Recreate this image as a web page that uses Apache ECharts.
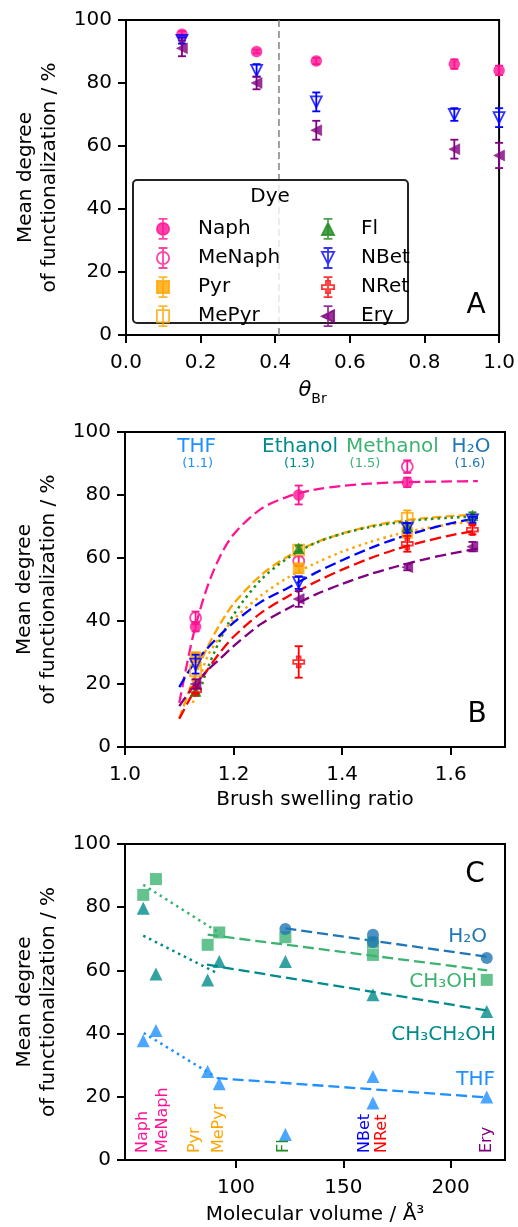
<!DOCTYPE html>
<html><head><meta charset="utf-8">
<script src="https://cdn.jsdelivr.net/npm/echarts@6/dist/echarts.min.js"></script>
<style>html,body{margin:0;padding:0;background:#fff}#c{width:518px;height:1227px}</style>
</head><body><div id="c"></div>
<script>
// ---------------- DATA ----------------
const dyeNames = ['Naph','MeNaph','Pyr','MePyr','Fl','NBet','NRet','Ery'];
const pctTicks = [0, 20, 40, 60, 80, 100];

// Panel A
const thetaBr   = [0.15, 0.35, 0.51, 0.88, 1.0];
const thetaTicks = [0, 0.2, 0.4, 0.6, 0.8, 1.0];
const aNaph     = [95.5, 90, 87, 86, 84];
const aNaphErr  = [1, 0.6, 1, 1.5, 1.5];
const aNBet     = [93.5, 84, 74, 70, 69];
const aNBetErr  = [1, 2, 3, 2, 3];
const aEry      = [91, 80, 65, 59, 57];
const aEryErr   = [2.5, 2, 3, 3, 4];
const thetaDivider = 0.41;

// Panel B
const swelling = [1.13, 1.32, 1.52, 1.64];
const swellTicks = [1.0, 1.2, 1.4, 1.6];
const bNaph     = [38.2, 80, 84, null];
const bNaphErr  = [1.5, 3, 1.5, null];
const bMeNaph   = [41, 59, 89, null];
const bMeNaphErr= [2, 1.5, 2, null];
const bPyr      = [28.5, 56.7, 68, null];
const bPyrErr   = [1.5, 1.5, 1.5, null];
const bMePyr    = [24.2, 62.5, 72.6, null];
const bMePyrErr = [3, 1, 2.5, null];
const bFl       = [17.8, 63, 70, 73.5];
const bFlErr    = [1, 1, 1, 1];
const bNBet     = [26.3, 52.2, 69.5, 72.1];
const bNBetErr  = [3, 2, 1.5, 1];
const bNRet     = [18, 27, 64.5, 69];
const bNRetErr  = [1, 5, 2.5, 1.5];
const bEry      = [20, 47, 57.1, 63.6];
const bEryErr   = [1.5, 2.5, 1, 1.5];

// Panel B fitted curves
const fitX      = [1.10, 1.125, 1.15, 1.175, 1.20, 1.25, 1.30, 1.35, 1.40, 1.45, 1.50, 1.55, 1.60, 1.65];
const fitNaphY  = [14, 35, 50, 60.5, 67.5, 75.5, 79.5, 81.7, 82.9, 83.6, 84.0, 84.2, 84.3, 84.4];
const fitMePyrY = [9, 21, 31, 39, 45.5, 54.5, 60.5, 64.8, 67.8, 70, 71.6, 72.6, 73.3, 73.8];
const fitPyrY   = [null, 14, 28, 35, 40.5, 48, 53.8, 58.3, 62, 65, 67.5, 69.3, 70.7, 71.8];
const fitNBetY  = [19, 26, 31, 35.5, 39.5, 46, 50.5, 55.2, 59.3, 63, 66.2, 68.8, 71, 72.7];
const fitNRetY  = [9, 17, 24, 30, 35, 42.5, 47.8, 52.3, 56.3, 59.8, 62.8, 65.2, 67.2, 68.8];
const fitEryY   = [13, 19, 24, 28, 32, 39, 44, 48.3, 51.8, 54.8, 57.3, 59.5, 61.4, 63];
const fitFlX    = [1.135, 1.15, 1.175, 1.20, 1.25, 1.30, 1.35, 1.40, 1.45, 1.50, 1.55, 1.60, 1.65];
const fitFlY    = [16, 24, 34, 42, 53, 60, 64.7, 67.7, 69.8, 71.2, 72.2, 72.8, 73.2];

// Panel C
const molVol   = [56.8, 62.7, 86.8, 92.2, 123, 163.8, 163.8, 216.8]; // per dye
const volTicks = [100, 150, 200];
const cTHF     = [37.7, 41.0, 28.0, 24.1, 8.1, 26.4, 18.0, 19.9];
const cEtOH    = [79.7, 58.9, 57.0, 62.8, 62.8, 52.3, null, 47.0];
const cMeOH    = [83.9, 88.9, 68.1, 72.0, 70.5, 68.8, 64.9, 57.0];
const cH2O     = [null, null, null, null, 73.1, 71.3, 69.0, 63.9];
const fitH2OX = [123, 217],     fitH2OY = [73.3, 64.3];
const fitMeOHDotX = [56.8, 92.9], fitMeOHDotY = [87.1, 71.6];
const fitMeOHDashX = [86.8, 217], fitMeOHDashY = [71.3, 60.0];
const fitEtOHDotX = [56.8, 91.9], fitEtOHDotY = [71.0, 58.9];
const fitEtOHDashX = [86.5, 217], fitEtOHDashY = [61.8, 47.3];
const fitTHFDotX = [57, 90],    fitTHFDotY = [40.2, 26.5];
const fitTHFDashX = [91, 217],  fitTHFDashY = [25.9, 19.8];
const dyeLabelX = [56.8, 66.1, 80.9, 92.2, 122.4, 160.1, 167.9, 216.8];
const dyeLabelY = 2.2;

// ---------------- STYLES ----------------
const FF = 'DejaVu Sans';
const dyeStyle = {
  Naph:   {color:'#ff1493', shape:'circle', hollow:false},
  MeNaph: {color:'#ff1493', shape:'circle', hollow:true},
  Pyr:    {color:'#ffa500', shape:'square', hollow:false},
  MePyr:  {color:'#ffa500', shape:'square', hollow:true},
  Fl:     {color:'#228b22', shape:'up',     hollow:false},
  NBet:   {color:'#0000ff', shape:'down',   hollow:true},
  NRet:   {color:'#ff0000', shape:'plus',   hollow:true},
  Ery:    {color:'#800080', shape:'left',   hollow:false}
};
const solvColor = {THF:'#1e90ff', EtOH:'#008b8b', MeOH:'#3cb371', H2O:'#1f77b4'};
const DASH = [11, 5], DOT = [2.5, 4];
const symbolOf = {
  circle:'circle', square:'rect', up:'triangle',
  down:'path://M0,0L2,0L1,2Z',
  left:'path://M0,1L2,0L2,2Z',
  plus:'path://M1,0L2,0L2,1L3,1L3,2L2,2L2,3L1,3L1,2L0,2L0,1L1,1Z'
};
const iconShape = {
  circle:'M1.5,10A5.5,5.5,0,1,0,12.5,10A5.5,5.5,0,1,0,1.5,10Z',
  square:'M1.5,4.5L12.5,4.5L12.5,15.5L1.5,15.5Z',
  up:'M7,4.5L12.5,15.5L1.5,15.5Z',
  down:'M1.5,4.5L12.5,4.5L7,15.5Z',
  left:'M1.5,10L12.5,4.5L12.5,15.5Z',
  plus:'M5.2,4.5L8.8,4.5L8.8,8.2L12.5,8.2L12.5,11.8L8.8,11.8L8.8,15.5L5.2,15.5L5.2,11.8L1.5,11.8L1.5,8.2L5.2,8.2Z'
};
const iconBar = 'M7,1L7,19M3,1L11,1M3,19L11,19';

function markerStyle(st){
  return st.hollow ? {color:'rgba(0,0,0,0)', borderColor:st.color, borderWidth:1.8}
                   : {color:st.color, borderColor:st.color, borderWidth:0.5};
}

// ---------------- SERIES ----------------
const series = [];
let zc = 3;
function errBars(name, gi, xs, ys, es, color){
  const data = [];
  xs.forEach((x,i)=>{ if (ys[i]!=null && es[i]!=null) data.push([x, ys[i], es[i]]); });
  series.push({
    name: name + ' err', type:'custom', xAxisIndex:gi, yAxisIndex:gi, silent:true, z: zc++,
    data, encode:{x:0, y:1},
    renderItem(params, api){
      const x = api.value(0), y = api.value(1), e = api.value(2);
      const lo = api.coord([x, y - e]), hi = api.coord([x, y + e]);
      const cw = 4, st = {stroke:color, lineWidth:1.8};
      return {type:'group', children:[
        {type:'line', shape:{x1:lo[0], y1:lo[1], x2:hi[0], y2:hi[1]}, style:st},
        {type:'line', shape:{x1:lo[0]-cw, y1:lo[1], x2:lo[0]+cw, y2:lo[1]}, style:st},
        {type:'line', shape:{x1:hi[0]-cw, y1:hi[1], x2:hi[0]+cw, y2:hi[1]}, style:st}
      ]};
    }
  });
}
function dyeScatter(name, gi, xs, ys, es, size){
  const st = dyeStyle[name];
  errBars(name, gi, xs, ys, es, st.color);
  const data = [];
  xs.forEach((x,i)=>{ if (ys[i]!=null) data.push([x, ys[i]]); });
  series.push({
    name, type:'scatter', xAxisIndex:gi, yAxisIndex:gi, silent:true, z: zc++,
    symbol: symbolOf[st.shape], symbolSize: size, itemStyle: markerStyle(st), data
  });
}
function curve(gi, xs, ys, color, dash, width, smooth){
  const data = [];
  xs.forEach((x,i)=>{ if (ys[i]!=null) data.push([x, ys[i]]); });
  series.push({
    type:'line', xAxisIndex:gi, yAxisIndex:gi, silent:true, z: 2,
    data, showSymbol:false, symbol:'none', smooth: smooth || false,
    lineStyle:{color, type:dash, width: width || 2.3}
  });
}

// Panel A
series.push({type:'line', xAxisIndex:0, yAxisIndex:0, silent:true, z:1, symbol:'none',
  data:[[thetaDivider, 0], [thetaDivider, 100]], lineStyle:{color:'#808080', type:[7,4], width:1.5}});
dyeScatter('Naph', 0, thetaBr, aNaph, aNaphErr, 11);
dyeScatter('NBet', 0, thetaBr, aNBet, aNBetErr, 11);
dyeScatter('Ery', 0, thetaBr, aEry, aEryErr, 11);

// Panel B
curve(1, fitX, fitNaphY, dyeStyle.Naph.color, DASH, 2.3, 0.3);
curve(1, fitX, fitMePyrY, dyeStyle.MePyr.color, [9, 4], 2.3, 0.3);
curve(1, fitFlX, fitFlY, dyeStyle.Fl.color, DOT, 2.5, 0.3);
curve(1, fitX, fitPyrY, dyeStyle.Pyr.color, DOT, 2.5, 0.3);
curve(1, fitX, fitNBetY, dyeStyle.NBet.color, DASH, 2.3, 0.3);
curve(1, fitX, fitNRetY, dyeStyle.NRet.color, DASH, 2.3, 0.3);
curve(1, fitX, fitEryY, dyeStyle.Ery.color, DASH, 2.3, 0.3);
dyeScatter('Naph', 1, swelling, bNaph, bNaphErr, 11);
dyeScatter('MeNaph', 1, swelling, bMeNaph, bMeNaphErr, 11);
dyeScatter('Pyr', 1, swelling, bPyr, bPyrErr, 11);
dyeScatter('MePyr', 1, swelling, bMePyr, bMePyrErr, 11);
dyeScatter('Fl', 1, swelling, bFl, bFlErr, 11);
dyeScatter('NBet', 1, swelling, bNBet, bNBetErr, 11);
dyeScatter('NRet', 1, swelling, bNRet, bNRetErr, 11);
dyeScatter('Ery', 1, swelling, bEry, bEryErr, 11);

// Panel C
function solvScatter(name, ys, sym, color, size){
  const data = [];
  molVol.forEach((x,i)=>{ if (ys[i]!=null) data.push([x, ys[i]]); });
  series.push({name, type:'scatter', xAxisIndex:2, yAxisIndex:2, silent:true, z:5,
    symbol:sym, symbolSize:size, itemStyle:{color}, data});
}
curve(2, fitTHFDotX, fitTHFDotY, solvColor.THF, DOT, 2.5);
curve(2, fitTHFDashX, fitTHFDashY, solvColor.THF, DASH);
curve(2, fitEtOHDotX, fitEtOHDotY, solvColor.EtOH, DOT, 2.5);
curve(2, fitEtOHDashX, fitEtOHDashY, solvColor.EtOH, DASH);
curve(2, fitMeOHDotX, fitMeOHDotY, solvColor.MeOH, DOT, 2.5);
curve(2, fitMeOHDashX, fitMeOHDashY, solvColor.MeOH, DASH);
curve(2, fitH2OX, fitH2OY, solvColor.H2O, DASH);
solvScatter('THF', cTHF, 'triangle', solvColor.THF, 13);
solvScatter('CH3CH2OH', cEtOH, 'triangle', solvColor.EtOH, 13);
solvScatter('CH3OH', cMeOH, 'rect', solvColor.MeOH, 12);
solvScatter('H2O', cH2O, 'circle', solvColor.H2O, 12);
series.push({type:'custom', xAxisIndex:2, yAxisIndex:2, silent:true, z:6,
  data: dyeLabelX.map(x => [x, dyeLabelY]), encode:{x:0, y:1},
  renderItem(params, api){
    const p = api.coord([api.value(0), api.value(1)]);
    const n = dyeNames[params.dataIndex];
    return {type:'text', x:p[0], y:p[1], rotation:Math.PI/2,
      style:{text:n, fill:dyeStyle[n].color, font:'16px "DejaVu Sans"', align:'left', verticalAlign:'middle'}};
  }});

// ---------------- AXES ----------------
function xAx(gi, min, max, ticks, fmt, name, gap, rich){
  return {gridIndex:gi, type:'value', min, max,
    axisLine:{show:false}, splitLine:{show:false},
    axisTick:{show:true, length:8, lineStyle:{color:'#000', width:2}, customValues:ticks},
    axisLabel:{fontFamily:FF, fontSize:20, color:'#000', margin:18, formatter:fmt, customValues:ticks},
    name, nameLocation:'middle', nameGap:gap,
    nameTextStyle: Object.assign({fontFamily:FF, fontSize:20, color:'#000'}, rich ? {rich} : {})};
}
function yAx(gi){
  return {gridIndex:gi, type:'value', min:0, max:100, interval:20,
    axisLine:{show:false}, splitLine:{show:false},
    axisTick:{show:true, length:8, lineStyle:{color:'#000', width:2}},
    axisLabel:{fontFamily:FF, fontSize:20, color:'#000', margin:14},
    name:'Mean degree\nof functionalization / %', nameLocation:'middle', nameGap:64,
    nameTextStyle:{fontFamily:FF, fontSize:20, color:'#000', lineHeight:24}};
}
const gridStyle = {show:true, borderColor:'#000', borderWidth:2, backgroundColor:'transparent'};

// ---------------- LEGEND ----------------
function legItem(n){
  const st = dyeStyle[n];
  return {name:n, icon:'path://' + iconShape[st.shape] + iconBar,
    itemStyle:{color: st.hollow ? '#ffffff' : st.color, borderColor: st.color, borderWidth:1.8}};
}
function legend(left, names, pad){
  return {orient:'vertical', left, top:213, itemGap:7.3, itemWidth:14, itemHeight:20,
    selectedMode:false, z:20, data:names.map(legItem),
    textStyle:{fontFamily:FF, fontSize:20, color:'#000', lineHeight:20, padding:[0,0,0,pad]}};
}

function txt(text, x, y, color, size, align){
  return {type:'text', z:21, style:{text, x, y, fill:color, font: size + 'px "DejaVu Sans"',
    align: align || 'center', verticalAlign:'middle'}};
}

const option = {
  animation:false,
  backgroundColor:'#fff',
  grid:[
    Object.assign({left:126, top:20, width:376, height:315}, gridStyle),
    Object.assign({left:125, top:432, width:380, height:315}, gridStyle),
    Object.assign({left:125, top:844, width:380, height:316}, gridStyle)
  ],
  xAxis:[
    xAx(0, 0, 1, thetaTicks, v => v.toFixed(1), '{t|θ}{s|Br}', 41,
        {t:{fontFamily:FF, fontSize:21, fontStyle:'italic', color:'#000', lineHeight:30},
         s:{fontFamily:FF, fontSize:14, color:'#000', verticalAlign:'bottom', lineHeight:16}}),
    xAx(1, 1.0, 1.7, swellTicks, v => v.toFixed(1), 'Brush swelling ratio', 43),
    xAx(2, 48.3, 225.3, volTicks, v => String(v), 'Molecular volume / Å³', 45)
  ],
  yAxis:[yAx(0), yAx(1), yAx(2)],
  legend:[legend(151, dyeNames.slice(0,4), 23), legend(316, dyeNames.slice(4), 21)],
  graphic:[
    {type:'rect', z:10, shape:{x:133, y:180, width:275, height:143, r:4},
     style:{fill:'rgba(255,255,255,0.8)', stroke:'#222', lineWidth:2}},
    txt('Dye', 270, 197, '#000', 20),
    txt('A', 476, 306, '#000', 28),
    txt('B', 477, 715, '#000', 28),
    txt('C', 475, 875, '#000', 28),
    txt('THF', 196.7, 446.7, solvColor.THF, 20),
    txt('(1.1)', 197.7, 463.3, solvColor.THF, 13),
    txt('Ethanol', 300, 446.7, solvColor.EtOH, 20),
    txt('(1.3)', 299.3, 463.3, solvColor.EtOH, 13),
    txt('Methanol', 392.5, 446.7, solvColor.MeOH, 20),
    txt('(1.5)', 365, 463.3, solvColor.MeOH, 13),
    txt('H₂O', 471, 446.7, solvColor.H2O, 20),
    txt('(1.6)', 470, 463.3, solvColor.H2O, 13),
    txt('H₂O', 487, 936.7, solvColor.H2O, 20, 'right'),
    txt('CH₃OH', 477, 981.7, solvColor.MeOH, 20, 'right'),
    txt('CH₃CH₂OH', 496, 1035, solvColor.EtOH, 20, 'right'),
    txt('THF', 495, 1079.3, solvColor.THF, 20, 'right')
  ],
  series
};
const chart = echarts.init(document.getElementById('c'), null, {renderer:'canvas'});
chart.setOption(option);
</script></body></html>
